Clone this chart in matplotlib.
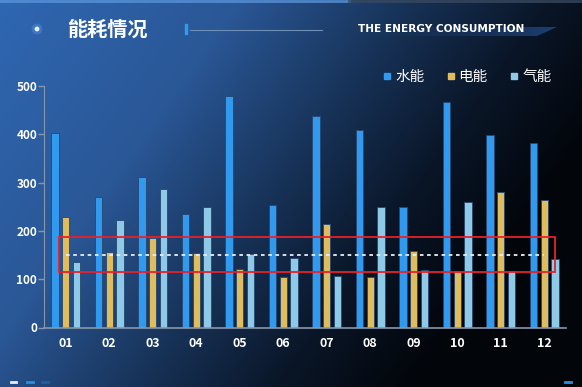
import matplotlib
matplotlib.use("Agg")
import matplotlib.pyplot as plt
import numpy as np
from matplotlib.lines import Line2D
from matplotlib.patches import Rectangle, Polygon

plt.rcParams['font.family'] = ['Noto Sans CJK SC', 'DejaVu Sans']

months = ["01", "02", "03", "04", "05", "06", "07", "08", "09", "10", "11", "12"]
water = [402, 270, 311, 234, 479, 253, 437, 408, 250, 466, 399, 383]
power = [228, 157, 185, 154, 121, 105, 215, 104, 158, 117, 281, 265]
gas = [136, 223, 287, 249, 152, 143, 106, 250, 119, 259, 118, 141]
series_names = ["水能", "电能", "气能"]
colors = ["#3199ee", "#dfbd5f", "#8fc9e8"]
mark_value = 150

W, H = 582, 387
fig = plt.figure(figsize=(W / 100, H / 100), dpi=100)

# background gradient, bright blue top-left to black bottom-right
bg = fig.add_axes([0, 0, 1, 1])
yy, xx = np.mgrid[0:H, 0:W]
t = np.clip(0.85 * xx / W + 0.4 * yy / H, 0, 1)
stops = [0, 0.35, 0.6, 0.8, 1.0]
cols = np.array([[0x2f, 0x67, 0xb2], [0x2a, 0x57, 0x96], [0x17, 0x32, 0x57],
                 [0x0a, 0x16, 0x28], [0x02, 0x05, 0x0a]]) / 255
img = np.stack([np.interp(t, stops, cols[:, k]) for k in range(3)], axis=-1)
bg.imshow(img, extent=[0, W, H, 0], aspect="auto")
bg.set_xlim(0, W)
bg.set_ylim(H, 0)
bg.axis("off")
bg.plot([0, W * 0.6], [1, 1], color="#5a95da", lw=2, alpha=0.8)
bg.plot([W * 0.6, W], [1, 1], color="#3a4a60", lw=2, alpha=0.8)

# header
bg.scatter([37], [29], s=60, color="#6fa8ff", alpha=0.3, edgecolors="none", zorder=2)
bg.scatter([37], [29], s=12, color="#e6f1ff", edgecolors="none", zorder=3)
bg.text(67, 29, "能耗情况", color="white", fontsize=14.5, fontweight="bold", va="center", ha="left")
bg.add_patch(Rectangle((184.5, 24), 2.5, 10, color="#2f9bf0"))
bg.plot([190, 322], [29.5, 29.5], color="#6d8fb5", lw=0.8)
band = Polygon([[345, 27], [557, 27], [537, 36], [345, 36]], closed=True, facecolor="none", edgecolor="none")
bg.add_patch(band)
grad = np.linspace(0, 1, 200)[None, :] ** 1.5
band_img = np.zeros((1, 200, 4))
band_img[..., 0] = 0x22 / 255
band_img[..., 1] = 0x4c / 255
band_img[..., 2] = 0x88 / 255
band_img[..., 3] = grad * 0.8
im = bg.imshow(band_img, extent=[345, 557, 36, 27], aspect="auto", zorder=2)
im.set_clip_path(band)
bg.set_xlim(0, W)
bg.set_ylim(H, 0)
bg.text(358, 28.5, "THE ENERGY CONSUMPTION", color="white", fontsize=7.6, fontweight="bold",
        va="center", ha="left", family="DejaVu Sans", zorder=3)

# bottom dashes
bg.plot([11, 16], [382, 382], color="#e8eef5", lw=2)
bg.plot([27, 33], [382, 382], color="#2f8be0", lw=2)
bg.plot([42, 48], [382, 382], color="#1f5fa0", lw=2)
bg.plot([565, 571], [382, 382], color="#2f8be0", lw=2)

ax = fig.add_axes([44 / W, 1 - 327.5 / H, (566 - 44) / W, (327.5 - 86) / H])
ax.set_facecolor("none")
x = np.arange(len(months))
bw = 0.17
step = 0.245
for i, (vals, col) in enumerate(zip([water, power, gas], colors)):
    ax.bar(x + (i - 1) * step, vals, bw, color=col, edgecolor="#26476e", linewidth=0.6,
           label=series_names[i], zorder=2)

ax.plot([x[0], x[-1]], [mark_value, mark_value], color="#e6eef8", lw=1.3, ls=(0, (2, 2)), zorder=3)
ax.add_patch(Rectangle((-0.155, 114), 11.4, 74, fill=False, edgecolor="#e8202a", lw=1.3, zorder=4))

ax.set_xlim(-0.5, 11.5)
ax.set_ylim(0, 500)
ax.set_xticks(x)
ax.set_xticklabels(months)
ax.set_yticks([0, 100, 200, 300, 400, 500])
for s in ["top", "right"]:
    ax.spines[s].set_visible(False)
ax.spines["left"].set_color("#8797ab")
ax.spines["bottom"].set_color("#8797ab")
ax.spines["bottom"].set_linewidth(1.2)
ax.tick_params(axis="x", length=0, pad=7, colors="white", labelsize=9)
ax.tick_params(axis="y", length=4, width=1, color="#8797ab", labelcolor="white", labelsize=8.5, pad=1)
for lb in ax.get_xticklabels() + ax.get_yticklabels():
    lb.set_fontweight("bold")

handles = [Line2D([], [], marker="s", ls="", color=c, markersize=4.5) for c in colors]
leg = ax.legend(handles, series_names, loc="upper right", bbox_to_anchor=(0.997, 1.12), ncol=3,
                frameon=False, fontsize=10.5, handletextpad=0.05, columnspacing=1.3,
                labelcolor="white", handlelength=1.0)

fig.savefig("out.png", dpi=100)
